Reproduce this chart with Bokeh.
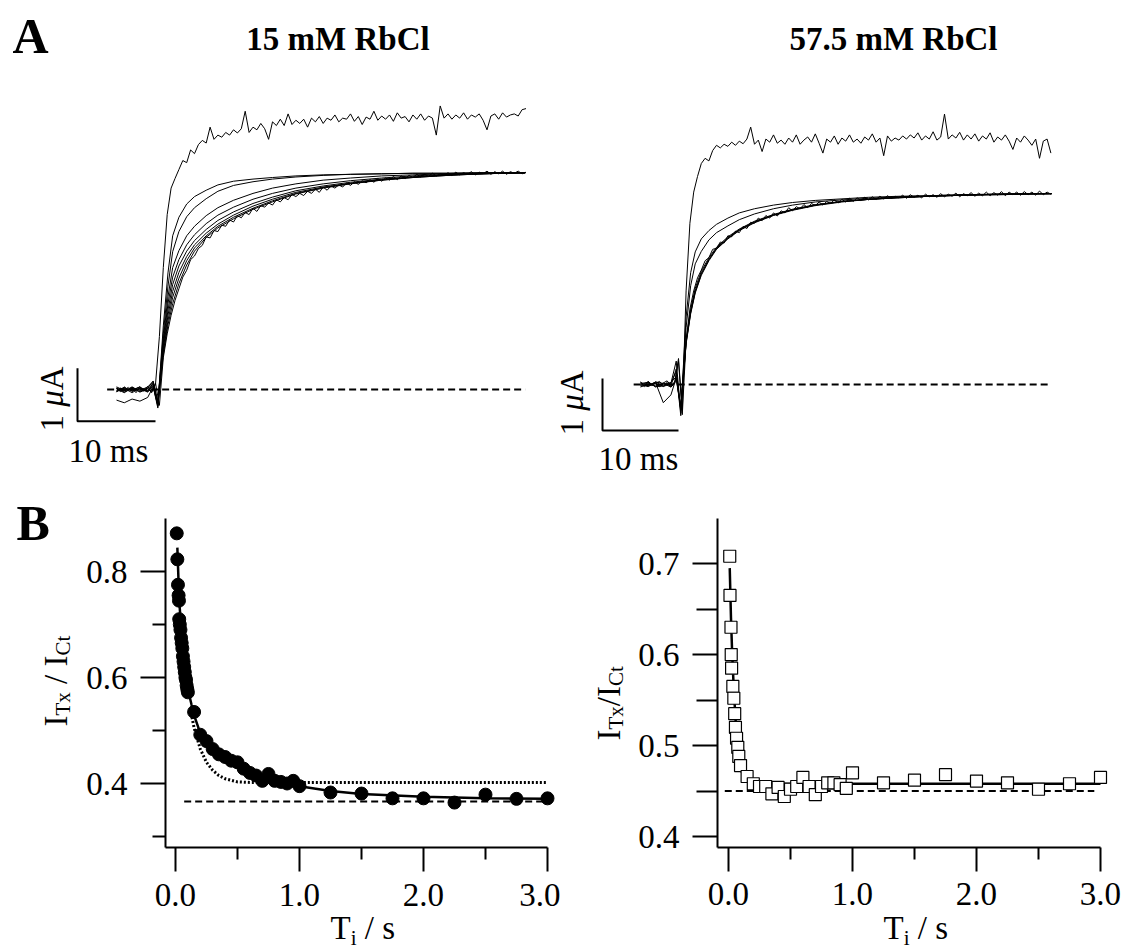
from math import pi
import numpy as np
from bokeh.plotting import figure
from bokeh.models import Range1d, Label, FixedTicker, PrintfTickFormatter
from bokeh.layouts import column, row
from bokeh.embed import file_html
from bokeh.resources import INLINE

# ------------------------------------------------------------------ data
# Panel A, 15 mM RbCl: current traces (time in ms from the step, current in uA)
A15_DENSE_T0, A15_DENSE_DT = -5.0, 0.5
A15_TOP = [0.02, -0.04, 0.05, -0.02, 0.03, -0.06, 0.04, -0.03, 0.06, -0.05,
           0.10, 1.00, 2.30, 3.30, 3.80, 3.98, 4.15, 4.32, 4.28, 4.52, 4.45,
           4.62, 4.70, 4.65, 4.95, 4.72, 4.80, 4.76, 4.85, 4.80, 4.90,
           4.84, 4.92, 5.25, 4.85, 4.95, 4.90, 5.02, 4.92, 4.72, 5.05,
           4.98, 5.10, 4.98, 5.20, 5.00, 5.08, 5.02, 5.10, 4.95, 5.12,
           5.05, 5.15, 5.02, 5.12, 5.08, 5.18, 5.05, 5.12, 5.10, 5.20,
           5.06, 5.15, 5.00, 5.14, 5.10, 5.25, 5.08, 5.16, 5.10, 5.18,
           5.06, 5.22, 5.12, 5.15, 5.05, 5.18, 5.10, 5.20, 5.08, 5.16,
           5.12, 4.80, 5.35, 5.12, 5.20, 5.10, 5.18, 5.12, 5.22, 5.10,
           5.18, 5.14, 5.20, 5.08, 4.90, 5.16, 5.20, 5.10, 5.22, 5.14,
           5.18, 5.20, 5.16, 5.28, 5.30]
A15_SLOW = [-0.05, 0.03, -0.02, 0.04, -0.04, 0.02, 0.05, -0.03, 0.02, -0.06,
            0.12, -0.30, 0.60, 1.05, 1.40, 1.68, 1.90, 2.12, 2.25, 2.45, 2.52,
            2.66, 2.72, 2.88, 2.86, 3.00, 2.98, 3.10, 3.08, 3.20, 3.16,
            3.28, 3.24, 3.34, 3.30, 3.42, 3.36, 3.47, 3.44, 3.52, 3.48,
            3.58, 3.54, 3.62, 3.58, 3.68, 3.64, 3.70, 3.66, 3.74, 3.70,
            3.78, 3.72, 3.82, 3.76, 3.84, 3.80, 3.86, 3.82, 3.90, 3.85,
            3.92, 3.87, 3.94, 3.90, 3.96, 3.91, 3.98, 3.93, 3.99, 3.95,
            4.02, 3.96, 4.03, 3.98, 4.04, 4.00, 4.06, 4.01, 4.06, 4.02,
            4.08, 4.03, 4.07, 4.04, 4.09, 4.04, 4.10, 4.05, 4.09, 4.06,
            4.11, 4.05, 4.10, 4.07, 4.12, 4.06, 4.11, 4.07, 4.12, 4.06,
            4.11, 4.08, 4.12, 4.07, 4.10]
A15_T = [-5.0, -4.0, -3.0, -2.0, -1.0, -0.3, 0.3, 1.0, 1.6, 2.2, 3.0, 4.0, 5.0,
         6.5, 8.0, 10.0, 12.5, 15.0, 18.0, 21.5, 25.0, 29.0, 33.0, 37.5, 42.0, 47.4]
A15_TRACES = [
    [0.03, -0.05, 0.04, -0.02, 0.05, 0.15, -0.30, 1.20, 2.20, 2.90, 3.25, 3.50, 3.64, 3.76, 3.86, 3.93, 3.97, 4.00, 4.03, 4.05, 4.06, 4.07, 4.08, 4.08, 4.09, 4.09],
    [-0.04, 0.02, -0.06, 0.03, -0.02, 0.10, -0.28, 1.05, 1.95, 2.60, 2.98, 3.26, 3.43, 3.60, 3.74, 3.85, 3.92, 3.97, 4.01, 4.04, 4.06, 4.07, 4.08, 4.08, 4.09, 4.09],
    [0.02, -0.03, 0.05, -0.05, 0.01, 0.12, -0.25, 0.95, 1.75, 2.30, 2.62, 2.90, 3.08, 3.28, 3.43, 3.57, 3.70, 3.80, 3.88, 3.95, 3.99, 4.03, 4.05, 4.07, 4.08, 4.09],
    [-0.02, 0.04, -0.03, 0.02, -0.05, 0.08, -0.32, 0.88, 1.62, 2.12, 2.45, 2.73, 2.92, 3.13, 3.29, 3.44, 3.59, 3.70, 3.80, 3.88, 3.94, 3.99, 4.03, 4.06, 4.08, 4.09],
    [0.05, -0.02, 0.02, -0.04, 0.03, 0.16, -0.22, 0.82, 1.50, 1.98, 2.33, 2.61, 2.81, 3.02, 3.19, 3.35, 3.51, 3.63, 3.75, 3.84, 3.91, 3.97, 4.01, 4.05, 4.07, 4.09],
    [-0.03, 0.03, -0.02, 0.05, -0.04, 0.06, -0.35, 0.76, 1.40, 1.85, 2.21, 2.51, 2.73, 2.95, 3.12, 3.29, 3.46, 3.59, 3.72, 3.82, 3.89, 3.96, 4.01, 4.05, 4.07, 4.09],
    [-0.20, -0.25, -0.18, -0.22, -0.15, 0.05, -0.30, 0.70, 1.30, 1.74, 2.10, 2.43, 2.67, 2.90, 3.08, 3.25, 3.42, 3.56, 3.70, 3.81, 3.89, 3.95, 4.00, 4.04, 4.07, 4.09],
    [0.01, -0.06, 0.03, 0.00, -0.03, 0.12, -0.27, 0.65, 1.22, 1.62, 2.00, 2.35, 2.61, 2.87, 3.05, 3.22, 3.40, 3.54, 3.69, 3.80, 3.88, 3.95, 4.00, 4.04, 4.07, 4.09],
]
A15_BASE = [-6.2, 47.4]

# Panel A, 57.5 mM RbCl
A57_DENSE_T0, A57_DENSE_DT = -5.0, 0.5
A57_TOP = [0.05, -0.02, 0.06, 0.00, 0.04, -0.05, 0.03, 0.07, -0.02, 0.04,
           0.50, -0.50, 1.80, 3.10, 3.70, 4.00, 4.25, 4.35, 4.30, 4.50, 4.60,
           4.55, 4.62, 4.58, 4.66, 4.60, 4.68, 4.63, 4.72, 4.95, 4.62,
           4.70, 4.48, 4.72, 4.66, 4.80, 4.64, 4.70, 4.62, 4.74, 4.66,
           4.80, 4.62, 4.70, 4.76, 4.66, 4.82, 4.64, 4.45, 4.72, 4.66,
           4.78, 4.62, 4.74, 4.68, 4.80, 4.66, 4.72, 4.64, 4.76, 4.70,
           4.82, 4.66, 4.74, 4.40, 4.78, 4.68, 4.74, 4.70, 4.78, 4.72,
           4.80, 4.74, 4.84, 4.70, 4.78, 4.72, 4.86, 4.70, 4.76, 5.20,
           4.72, 4.80, 4.74, 4.85, 4.70, 4.80, 4.72, 4.82, 4.68, 4.78,
           4.72, 4.84, 4.66, 4.76, 4.70, 4.80, 4.68, 4.52, 4.74, 4.66,
           4.78, 4.70, 4.60, 4.72, 4.35, 4.68, 4.72, 4.45]
A57_SLOW = [0.03, -0.04, 0.05, -0.02, 0.02, 0.06, -0.03, 0.04, -0.05, 0.02,
            0.45, -0.58, 0.85, 1.45, 1.80, 2.05, 2.20, 2.38, 2.44, 2.60, 2.62,
            2.74, 2.72, 2.86, 2.84, 2.95, 2.92, 3.04, 3.00, 3.12, 3.10,
            3.20, 3.15, 3.25, 3.20, 3.30, 3.24, 3.34, 3.30, 3.40, 3.34,
            3.42, 3.38, 3.46, 3.40, 3.48, 3.44, 3.51, 3.45, 3.52, 3.48,
            3.55, 3.49, 3.56, 3.51, 3.58, 3.52, 3.59, 3.54, 3.60, 3.55,
            3.61, 3.56, 3.62, 3.57, 3.63, 3.58, 3.62, 3.59, 3.64, 3.58,
            3.65, 3.60, 3.64, 3.59, 3.66, 3.61, 3.65, 3.60, 3.67, 3.61,
            3.66, 3.62, 3.68, 3.61, 3.67, 3.63, 3.69, 3.62, 3.68, 3.63,
            3.70, 3.63, 3.69, 3.64, 3.71, 3.63, 3.70, 3.65, 3.70, 3.64,
            3.71, 3.65, 3.70, 3.64, 3.72, 3.65, 3.70, 3.66]
A57_T = [-5.0, -4.0, -3.0, -2.0, -1.0, -0.3, 0.3, 1.0, 1.6, 2.2, 3.0, 4.0, 5.0,
         6.5, 8.0, 10.0, 12.5, 15.0, 18.0, 21.5, 25.0, 29.0, 33.0, 37.5, 42.0, 46.0, 49.1]
A57_TRACES = [
    [0.04, -0.03, 0.05, -0.04, 0.02, 0.45, -0.55, 1.30, 2.15, 2.55, 2.80, 2.96, 3.08, 3.20, 3.30, 3.38, 3.45, 3.50, 3.54, 3.57, 3.60, 3.62, 3.63, 3.65, 3.66, 3.67, 3.67],
    [-0.02, 0.05, -0.05, 0.03, -0.03, 0.30, -0.50, 1.10, 1.90, 2.32, 2.56, 2.78, 2.92, 3.05, 3.17, 3.28, 3.38, 3.45, 3.51, 3.55, 3.58, 3.61, 3.63, 3.65, 3.66, 3.67, 3.67],
    [-0.05, 0.02, -0.03, 0.00, 0.04, 0.15, -0.45, 0.85, 1.45, 1.85, 2.18, 2.44, 2.64, 2.84, 2.99, 3.14, 3.27, 3.37, 3.46, 3.52, 3.56, 3.60, 3.62, 3.64, 3.66, 3.67, 3.67],
    [0.02, 0.04, -0.04, -0.03, 0.03, 0.25, -0.60, 0.82, 1.40, 1.80, 2.14, 2.41, 2.62, 2.82, 2.98, 3.13, 3.26, 3.36, 3.45, 3.52, 3.56, 3.59, 3.62, 3.64, 3.65, 3.66, 3.67],
    [-0.03, -0.02, 0.05, 0.02, -0.05, 0.10, -0.40, 0.78, 1.36, 1.76, 2.10, 2.38, 2.60, 2.80, 2.96, 3.11, 3.25, 3.35, 3.44, 3.51, 3.56, 3.59, 3.62, 3.64, 3.65, 3.66, 3.67],
    [0.00, -0.04, 0.03, -0.35, -0.20, 0.12, -0.48, 0.80, 1.38, 1.78, 2.12, 2.40, 2.61, 2.81, 2.97, 3.12, 3.26, 3.36, 3.45, 3.52, 3.56, 3.60, 3.62, 3.64, 3.66, 3.67, 3.67],
]
A57_BASE = [-5.9, 49.1]

SCALE_MS = 10.0   # scale bar, ms
SCALE_UA = 1.0    # scale bar, uA

# Panel B, 15 mM RbCl: I_Tx / I_Ct vs Ti (s)
B15_TI = [0.010, 0.015, 0.020, 0.025, 0.028, 0.030, 0.035, 0.040, 0.045, 0.050,
          0.055, 0.060, 0.065, 0.070, 0.075, 0.080, 0.085, 0.090, 0.095, 0.100,
          0.15, 0.20, 0.25, 0.30, 0.35, 0.40, 0.45, 0.50, 0.55, 0.60,
          0.65, 0.70, 0.75, 0.80, 0.85, 0.90, 0.95, 1.00,
          1.25, 1.50, 1.75, 2.00, 2.25, 2.50, 2.75, 3.00]
B15_R = [0.872, 0.823, 0.775, 0.755, 0.745, 0.710, 0.700, 0.690, 0.675, 0.665,
         0.655, 0.640, 0.630, 0.620, 0.610, 0.600, 0.595, 0.585, 0.578, 0.572,
         0.535, 0.492, 0.480, 0.465, 0.455, 0.450, 0.443, 0.440, 0.428, 0.420,
         0.415, 0.405, 0.418, 0.405, 0.403, 0.400, 0.405, 0.395,
         0.383, 0.381, 0.372, 0.372, 0.364, 0.379, 0.371, 0.372]
B15_FIT2_T = [0.015, 0.03, 0.05, 0.07, 0.09, 0.11, 0.13, 0.16, 0.20, 0.25, 0.30,
              0.40, 0.50, 0.60, 0.80, 1.00, 1.25, 1.50, 2.00, 2.50, 3.00]
B15_FIT2_R = [0.845, 0.745, 0.680, 0.630, 0.595, 0.568, 0.548, 0.522, 0.495, 0.475, 0.462,
              0.445, 0.432, 0.422, 0.406, 0.395, 0.386, 0.380, 0.375, 0.372, 0.371]
B15_FIT1_T = [0.12, 0.15, 0.20, 0.25, 0.30, 0.35, 0.40, 0.50, 0.60, 0.80, 1.00, 3.00]
B15_FIT1_R = [0.540, 0.505, 0.465, 0.440, 0.425, 0.415, 0.409, 0.403, 0.402, 0.402, 0.402, 0.402]
B15_BASE_T = [0.07, 3.0]
B15_BASE_R = 0.366

# Panel B, 57.5 mM RbCl
B57_TI = [0.010, 0.012, 0.020, 0.022, 0.025, 0.035, 0.043, 0.050, 0.056, 0.065,
          0.075, 0.083, 0.097,
          0.15, 0.20, 0.25, 0.30, 0.35, 0.40, 0.45, 0.50, 0.55, 0.60,
          0.65, 0.70, 0.75, 0.80, 0.85, 0.90, 0.95, 1.00,
          1.25, 1.50, 1.75, 2.00, 2.25, 2.50, 2.75, 3.00]
B57_R = [0.708, 0.665, 0.630, 0.600, 0.585, 0.565, 0.552, 0.535, 0.520, 0.508,
         0.498, 0.488, 0.478,
         0.466, 0.458, 0.455, 0.455, 0.447, 0.454, 0.444, 0.452, 0.455, 0.465,
         0.455, 0.446, 0.455, 0.459, 0.459, 0.457, 0.453, 0.470,
         0.459, 0.462, 0.468, 0.461, 0.459, 0.452, 0.458, 0.465]
B57_FIT_T = [0.01, 0.02, 0.03, 0.04, 0.05, 0.06, 0.07, 0.08, 0.10, 0.12, 0.15, 0.20, 0.30, 3.00]
B57_FIT_R = [0.695, 0.640, 0.600, 0.570, 0.545, 0.522, 0.505, 0.490, 0.474, 0.466, 0.461, 0.459, 0.458, 0.458]
B57_BASE_T = [-0.03, 2.95]
B57_BASE_R = 0.450

TITLES = ["15 mM RbCl", "57.5 mM RbCl"]

# ------------------------------------------------------------------ helpers
FONT = "Liberation Serif"
ADV = {' ': .25, '.': .25, '/': .278, 'I': .333, 'T': .611, 'x': .5, 'C': .667,
       't': .278, 'i': .278, 's': .389, 'A': .722, 'm': .778, 'M': .889, 'μ': .576}
ADV_IT = {'μ': .5}
for d in "0123456789":
    ADV[d] = .5
MID = 0.34   # distance from the baseline to the middle of the text box, in em


def tw(s, size, style):
    tab = ADV_IT if style == "italic" else {}
    return sum(tab.get(c, ADV.get(c, .5)) for c in s) * size


class Place:
    """Places texts at page pixel positions (baseline given) through a figure's scales."""

    def __init__(self, p, fx, fy):
        self.p, self.fx, self.fy = p, fx, fy

    def text(self, px, py, text, size, style="normal", align="left", angle=0.0):
        if angle == 0.0:
            px_, py_ = px, py - MID * size
        else:
            px_, py_ = px - MID * size, py
        self.p.add_layout(Label(x=self.fx(px_), y=self.fy(py_), text=text, text_font=FONT,
                                text_font_size=f"{size}px", text_font_style=style,
                                text_align=align, text_baseline="middle", angle=angle,
                                text_color="black"))

    def pieces_h(self, x0, base, pieces):
        x = x0
        for text, size, shift, style in pieces:
            lead = len(text) - len(text.lstrip(' '))
            self.text(x + tw(' ' * lead, size, style), base + shift, text.strip(), size, style)
            x += tw(text, size, style)

    def pieces_v(self, base, y0, pieces):
        y = y0
        for text, size, shift, style in pieces:
            lead = len(text) - len(text.lstrip(' '))
            self.text(base + shift, y - tw(' ' * lead, size, style), text.strip(), size, style,
                      angle=pi / 2)
            y -= tw(text, size, style)


def base_fig(width, height, fx, fy, x0, x1, y0, y1, **kw):
    p = figure(width=width, height=height, output_backend="svg", toolbar_location=None,
               min_border=0, x_range=Range1d(fx(x0), fx(x1)), y_range=Range1d(fy(y1), fy(y0)),
               **kw)
    p.grid.visible = False
    p.outline_line_color = None
    p.background_fill_color = "white"
    p.border_fill_color = "white"
    return p


def style_axes(p, xstart, ybounds):
    xa, ya = p.xaxis[0], p.yaxis[0]
    xa.fixed_location = ybounds[0]
    xa.bounds = (xstart, 3.0)
    ya.fixed_location = xstart
    ya.bounds = ybounds
    for ax in (xa, ya):
        ax.axis_line_width = 2
        ax.axis_line_color = "black"
        ax.major_tick_line_width = 2
        ax.minor_tick_line_width = 2
        ax.major_tick_line_color = "black"
        ax.minor_tick_line_color = "black"
        ax.major_tick_in = 0
        ax.minor_tick_in = 0
        ax.major_label_text_font = FONT
        ax.major_label_text_font_size = "33px"
        ax.major_label_text_color = "black"
        ax.formatter = PrintfTickFormatter(format="%.1f")
    xa.ticker = FixedTicker(ticks=[0, 1, 2, 3], minor_ticks=[0.5, 1.5, 2.5])
    xa.major_tick_out = 24
    xa.minor_tick_out = 12
    xa.major_label_standoff = 12
    ya.major_tick_out = 25
    ya.major_label_standoff = 13


def draw_traces(p, t, traces, t0, dt, dense):
    for tr in traces:
        assert len(tr) == len(t)
        p.line(t, tr, line_color="black", line_width=1)
    for tr in dense:
        tt = t0 + dt * np.arange(len(tr))
        p.line(tt, tr, line_color="black", line_width=1)


# ------------------------------------------------------------------ panel A, left
fxA1 = lambda px: (px - 155.0) / 7.8
fyA1 = lambda py: (389.0 - py) / 53.0
pA1 = base_fig(550, 480, fxA1, fyA1, 0, 550, 0, 480, x_axis_type=None, y_axis_type=None)
pA1.line(A15_BASE, [0, 0], line_color="black", line_width=2, line_dash="7 4")
draw_traces(pA1, A15_T, A15_TRACES, A15_DENSE_T0, A15_DENSE_DT, [A15_SLOW, A15_TOP])
bx, by = -SCALE_MS, 0.4 - SCALE_UA
pA1.line([bx, bx, bx + SCALE_MS], [by + SCALE_UA, by, by], line_color="black", line_width=2)
L = Place(pA1, fxA1, fyA1)
L.text(12, 52, "A", 50, "bold")
L.text(337.5, 50, TITLES[0], 33, "bold", align="center")
L.text(108, 462, "10 ms", 33, align="center")
L.pieces_v(63, 431, [("1 ", 33, 0, "normal"), ("μ", 33, 0, "italic"), ("A", 33, 0, "normal")])

# ------------------------------------------------------------------ panel A, right
fxA2 = lambda px: (px - 678.0) / 7.6
fyA2 = lambda py: (384.0 - py) / 52.0
pA2 = base_fig(575, 480, fxA2, fyA2, 550, 1125, 0, 480, x_axis_type=None, y_axis_type=None)
pA2.line(A57_BASE, [0, 0], line_color="black", line_width=2, line_dash="7 4")
draw_traces(pA2, A57_T, A57_TRACES, A57_DENSE_T0, A57_DENSE_DT, [A57_SLOW, A57_TOP])
bx, by = -SCALE_MS, 0.115 - SCALE_UA
pA2.line([bx, bx, bx + SCALE_MS], [by + SCALE_UA, by, by], line_color="black", line_width=2)
L = Place(pA2, fxA2, fyA2)
L.text(893, 50, TITLES[1], 33, "bold", align="center")
L.text(638, 470, "10 ms", 33, align="center")
L.pieces_v(583, 435, [("1 ", 33, 0, "normal"), ("μ", 33, 0, "italic"), ("A", 33, 0, "normal")])

# ------------------------------------------------------------------ panel B, left
X0_B1, YB_B1 = -0.0806, (0.2792, 0.9)
fxB1 = lambda px: X0_B1 + (px - 165.0) / 124.0
fyB1 = lambda py: YB_B1[1] - (py - 518.0) / 530.0
pB1 = base_fig(560, 472, fxB1, fyB1, 0, 560, 480, 952)
style_axes(pB1, X0_B1, YB_B1)
pB1.yaxis[0].ticker = FixedTicker(ticks=[0.4, 0.6, 0.8], minor_ticks=[0.3, 0.5, 0.7])
pB1.yaxis[0].minor_tick_out = 13
pB1.line(B15_BASE_T, [B15_BASE_R] * 2, line_color="black", line_width=2, line_dash="7 4")
pB1.line(B15_FIT1_T, B15_FIT1_R, line_color="black", line_width=3, line_dash="2 2")
pB1.line(B15_FIT2_T, B15_FIT2_R, line_color="black", line_width=2.5)
pB1.scatter(B15_TI, B15_R, marker="circle", size=13, fill_color="black", line_color="black")
L = Place(pB1, fxB1, fyB1)
L.text(16, 539, "B", 50, "bold")
L.pieces_v(67, 726, [("I", 33, 0, "normal"), ("Tx", 21, 3, "normal"),
                     (" / ", 33, 0, "normal"), ("I", 33, 0, "normal"),
                     ("Ct", 21, 3, "normal")])
L.pieces_h(330, 939, [("T", 33, 0, "normal"), ("i", 21, 6, "normal"),
                      (" / s", 33, 0, "normal")])

# ------------------------------------------------------------------ panel B, right
X0_B2, YB_B2 = -0.0887, (0.388, 0.7495)
fxB2 = lambda px: X0_B2 + (px - 717.0) / 124.0
fyB2 = lambda py: YB_B2[1] - (py - 518.0) / 910.0
pB2 = base_fig(565, 472, fxB2, fyB2, 560, 1125, 480, 952)
style_axes(pB2, X0_B2, YB_B2)
pB2.yaxis[0].ticker = FixedTicker(ticks=[0.4, 0.5, 0.6, 0.7], minor_ticks=[0.45, 0.55, 0.65])
pB2.yaxis[0].minor_tick_out = 21
pB2.line(B57_BASE_T, [B57_BASE_R] * 2, line_color="black", line_width=2, line_dash="7 4")
pB2.line(B57_FIT_T, B57_FIT_R, line_color="black", line_width=2.5)
pB2.scatter(B57_TI, B57_R, marker="square", size=12, fill_color="white", line_color="black",
            line_width=1.2)
L = Place(pB2, fxB2, fyB2)
L.pieces_v(620, 740, [("I", 33, 0, "normal"), ("Tx", 21, 3, "normal"),
                      ("/", 33, 0, "normal"), ("I", 33, 0, "normal"),
                      ("Ct", 21, 3, "normal")])
L.pieces_h(883, 939, [("T", 33, 0, "normal"), ("i", 21, 6, "normal"),
                      (" / s", 33, 0, "normal")])

assert len(B15_TI) == len(B15_R) and len(B57_TI) == len(B57_R)
assert len(B15_FIT2_T) == len(B15_FIT2_R) and len(B15_FIT1_T) == len(B15_FIT1_R)
assert len(B57_FIT_T) == len(B57_FIT_R)

layout = column(row(pA1, pA2), row(pB1, pB2))
open("out.html", "w").write(file_html(layout, INLINE))
